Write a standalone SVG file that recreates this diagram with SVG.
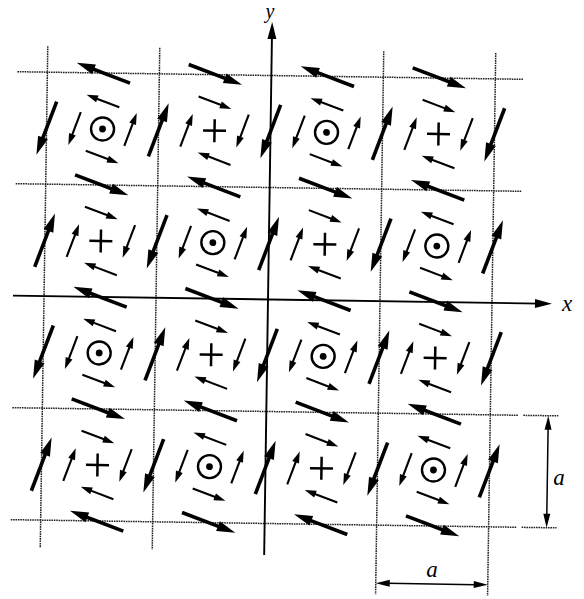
<svg xmlns="http://www.w3.org/2000/svg" xmlns:xlink="http://www.w3.org/1999/xlink" width="584" height="599" viewBox="0 0 584 599">
<style>
.grid line{stroke:#222;stroke-width:1.5;stroke-dasharray:1.6 0.8;fill:none}
.axis{stroke:#000;stroke-width:1.9;fill:none}
.dim{stroke:#000;stroke-width:1.5;fill:none}
.lbl{font-family:"Liberation Serif","Times New Roman",serif;font-style:italic;font-size:23px;fill:#000;text-anchor:middle}
.sym{stroke:#000;fill:none;stroke-width:2.4}
.plus{stroke:#000;stroke-width:2.5}
</style>
<defs>
<g id="B"><line x1="-28.5" y1="0" x2="14" y2="0" stroke="#000" stroke-width="3.6"/><polygon points="28.5,0 10,-5.2 10,5.2" fill="#000"/></g>
<g id="S"><line x1="-17.5" y1="0" x2="8" y2="0" stroke="#000" stroke-width="2.1"/><polygon points="17.5,0 6,-3.6 6,3.6" fill="#000"/></g>
<g id="O"><circle r="11.5" class="sym"/><circle r="3.4" fill="#000"/></g>
<g id="P"><line x1="-11.5" y1="0" x2="11.5" y2="0" class="plus"/><line x1="0" y1="-11.5" x2="0" y2="11.5" class="plus"/></g>
<g id="Sccw"><use xlink:href="#S" transform="translate(0 -28) rotate(200)"/><use xlink:href="#S" transform="translate(-28 0) rotate(110)"/><use xlink:href="#S" transform="translate(0 28) rotate(20)"/><use xlink:href="#S" transform="translate(28 0) rotate(290)"/></g>
<g id="Scw"><use xlink:href="#S" transform="translate(0 -28) rotate(20)"/><use xlink:href="#S" transform="translate(28 0) rotate(110)"/><use xlink:href="#S" transform="translate(0 28) rotate(200)"/><use xlink:href="#S" transform="translate(-28 0) rotate(290)"/></g>
<polygon id="hd" points="0,0 -17,-4.5 -17,4.5" fill="#000"/>
<polygon id="dh" points="0,0 -14,-3.5 -14,3.5" fill="#000"/>
</defs>
<rect width="584" height="599" fill="#fff"/>
<g transform="translate(268 299.5) rotate(0.86)">
<g id="grid" class="grid">
<line x1="-254" y1="-224" x2="252" y2="-224"/>
<line x1="-254" y1="-112" x2="252" y2="-112"/>
<line x1="-254" y1="112" x2="252" y2="112"/>
<line x1="-254" y1="224" x2="252" y2="224"/>
<line x1="257" y1="112" x2="292" y2="112"/>
<line x1="257" y1="224" x2="292" y2="224"/>
<line x1="-224" y1="-250" x2="-224" y2="252"/>
<line x1="-112" y1="-250" x2="-112" y2="252"/>
<line x1="112" y1="-250" x2="112" y2="293"/>
<line x1="224" y1="-250" x2="224" y2="293"/>
</g>
<g id="axes">
<line class="axis" x1="-255" y1="0" x2="272" y2="0"/>
<use xlink:href="#hd" transform="translate(284 0)"/>
<line class="axis" x1="0" y1="255.5" x2="0" y2="-265"/>
<use xlink:href="#hd" transform="translate(0 -277.5) rotate(-90)"/>
</g>
<g id="dimensions">
<line class="dim" x1="282" y1="124" x2="282" y2="212"/>
<use xlink:href="#dh" transform="translate(282 112) rotate(-90)"/>
<use xlink:href="#dh" transform="translate(282 224) rotate(90)"/>
<line class="dim" x1="124" y1="282" x2="212" y2="282"/>
<use xlink:href="#dh" transform="translate(112 282) rotate(180)"/>
<use xlink:href="#dh" transform="translate(224 282)"/>
</g>
<g id="edge-arrows">
<use xlink:href="#B" transform="translate(-168 -224) rotate(200)"/>
<use xlink:href="#B" transform="translate(-56 -224) rotate(20)"/>
<use xlink:href="#B" transform="translate(56 -224) rotate(200)"/>
<use xlink:href="#B" transform="translate(168 -224) rotate(20)"/>
<use xlink:href="#B" transform="translate(-168 -112) rotate(20)"/>
<use xlink:href="#B" transform="translate(-56 -112) rotate(200)"/>
<use xlink:href="#B" transform="translate(56 -112) rotate(20)"/>
<use xlink:href="#B" transform="translate(168 -112) rotate(200)"/>
<use xlink:href="#B" transform="translate(-168 0) rotate(200)"/>
<use xlink:href="#B" transform="translate(-56 0) rotate(20)"/>
<use xlink:href="#B" transform="translate(56 0) rotate(200)"/>
<use xlink:href="#B" transform="translate(168 0) rotate(20)"/>
<use xlink:href="#B" transform="translate(-168 112) rotate(20)"/>
<use xlink:href="#B" transform="translate(-56 112) rotate(200)"/>
<use xlink:href="#B" transform="translate(56 112) rotate(20)"/>
<use xlink:href="#B" transform="translate(168 112) rotate(200)"/>
<use xlink:href="#B" transform="translate(-168 224) rotate(200)"/>
<use xlink:href="#B" transform="translate(-56 224) rotate(20)"/>
<use xlink:href="#B" transform="translate(56 224) rotate(200)"/>
<use xlink:href="#B" transform="translate(168 224) rotate(20)"/>
<use xlink:href="#B" transform="translate(-224 -168) rotate(110)"/>
<use xlink:href="#B" transform="translate(-224 -56) rotate(290)"/>
<use xlink:href="#B" transform="translate(-224 56) rotate(110)"/>
<use xlink:href="#B" transform="translate(-224 168) rotate(290)"/>
<use xlink:href="#B" transform="translate(-112 -168) rotate(290)"/>
<use xlink:href="#B" transform="translate(-112 -56) rotate(110)"/>
<use xlink:href="#B" transform="translate(-112 56) rotate(290)"/>
<use xlink:href="#B" transform="translate(-112 168) rotate(110)"/>
<use xlink:href="#B" transform="translate(0 -168) rotate(110)"/>
<use xlink:href="#B" transform="translate(0 -56) rotate(290)"/>
<use xlink:href="#B" transform="translate(0 56) rotate(110)"/>
<use xlink:href="#B" transform="translate(0 168) rotate(290)"/>
<use xlink:href="#B" transform="translate(112 -168) rotate(290)"/>
<use xlink:href="#B" transform="translate(112 -56) rotate(110)"/>
<use xlink:href="#B" transform="translate(112 56) rotate(290)"/>
<use xlink:href="#B" transform="translate(112 168) rotate(110)"/>
<use xlink:href="#B" transform="translate(224 -168) rotate(110)"/>
<use xlink:href="#B" transform="translate(224 -56) rotate(290)"/>
<use xlink:href="#B" transform="translate(224 56) rotate(110)"/>
<use xlink:href="#B" transform="translate(224 168) rotate(290)"/>
</g>
<g id="cell-0-0" transform="translate(-168 -168)"><use xlink:href="#O"/><use xlink:href="#Sccw"/></g>
<g id="cell-1-0" transform="translate(-56 -168)"><use xlink:href="#P"/><use xlink:href="#Scw"/></g>
<g id="cell-2-0" transform="translate(56 -168)"><use xlink:href="#O"/><use xlink:href="#Sccw"/></g>
<g id="cell-3-0" transform="translate(168 -168)"><use xlink:href="#P"/><use xlink:href="#Scw"/></g>
<g id="cell-0-1" transform="translate(-168 -56)"><use xlink:href="#P"/><use xlink:href="#Scw"/></g>
<g id="cell-1-1" transform="translate(-56 -56)"><use xlink:href="#O"/><use xlink:href="#Sccw"/></g>
<g id="cell-2-1" transform="translate(56 -56)"><use xlink:href="#P"/><use xlink:href="#Scw"/></g>
<g id="cell-3-1" transform="translate(168 -56)"><use xlink:href="#O"/><use xlink:href="#Sccw"/></g>
<g id="cell-0-2" transform="translate(-168 56)"><use xlink:href="#O"/><use xlink:href="#Sccw"/></g>
<g id="cell-1-2" transform="translate(-56 56)"><use xlink:href="#P"/><use xlink:href="#Scw"/></g>
<g id="cell-2-2" transform="translate(56 56)"><use xlink:href="#O"/><use xlink:href="#Sccw"/></g>
<g id="cell-3-2" transform="translate(168 56)"><use xlink:href="#P"/><use xlink:href="#Scw"/></g>
<g id="cell-0-3" transform="translate(-168 168)"><use xlink:href="#P"/><use xlink:href="#Scw"/></g>
<g id="cell-1-3" transform="translate(-56 168)"><use xlink:href="#O"/><use xlink:href="#Sccw"/></g>
<g id="cell-2-3" transform="translate(56 168)"><use xlink:href="#P"/><use xlink:href="#Scw"/></g>
<g id="cell-3-3" transform="translate(168 168)"><use xlink:href="#O"/><use xlink:href="#Sccw"/></g>
</g>
<g id="labels">
<text class="lbl" x="270" y="18" style="font-size:20px">y</text>
<text class="lbl" x="567" y="311">x</text>
<text class="lbl" x="559" y="485">a</text>
<text class="lbl" x="432" y="577">a</text>
</g>
</svg>
